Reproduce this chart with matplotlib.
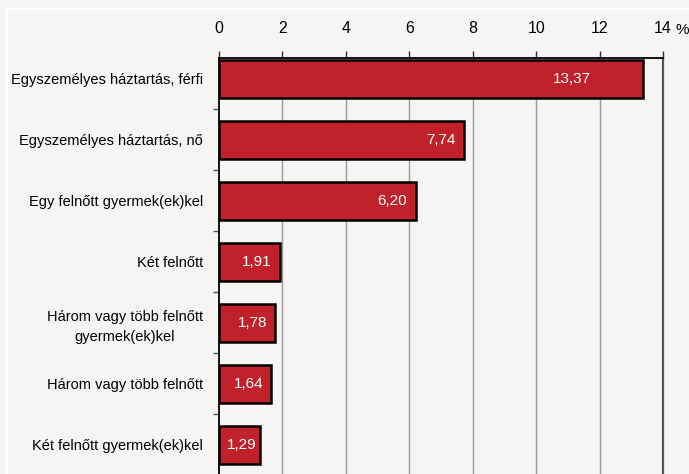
import matplotlib.pyplot as plt
from matplotlib.lines import Line2D

categories = [
    "Egyszemélyes háztartás, férfi",
    "Egyszemélyes háztartás, nő",
    "Egy felnőtt gyermek(ek)kel",
    "Két felnőtt",
    "Három vagy több felnőtt\ngyermek(ek)kel",
    "Három vagy több felnőtt",
    "Két felnőtt gyermek(ek)kel",
]
values = [13.37, 7.74, 6.20, 1.91, 1.78, 1.64, 1.29]
xticks = [0, 2, 4, 6, 8, 10, 12, 14]

# gap (px) between bar end and value label, as placed in the original
label_gap = [52, 9, 9, 8, 8, 8, 3]

plt.rcParams['font.family'] = ['Liberation Sans', 'DejaVu Sans']
bg = '#f6f5f3'

fig = plt.figure(figsize=(6.89, 4.74), dpi=100, facecolor=bg)
# white panel frame
fig.add_artist(Line2D([6.5/689, 6.5/689], [0, 1 - 8.5/474], color='white', lw=1.5, zorder=0))
fig.add_artist(Line2D([6.5/689, 1], [1 - 8.5/474, 1 - 8.5/474], color='white', lw=1.5, zorder=0))

ax = fig.add_axes([219/689, 0, (663 - 219)/689, (474 - 58)/474])
ax.set_facecolor(bg)

y = list(range(len(categories)))
ax.barh(y, values, height=0.62, color='#c1212a', edgecolor='black', linewidth=1.8, zorder=3)

px = 14 / 444  # data units per pixel
for yi, v, g in zip(y, values, label_gap):
    ax.text(v - g * px, yi, f"{v:.2f}".replace('.', ','), ha='right', va='center',
            color='white', fontsize=11, zorder=4)

ax.set_xlim(0, 14)
ax.set_ylim(6.48, -0.34)

ax.xaxis.tick_top()
ax.set_xticks(xticks)
ax.set_xticklabels([str(t) for t in xticks], fontsize=11.5)
ax.tick_params(axis='x', direction='out', length=5, width=1, color='#333333', pad=11)
for t in xticks[1:-1]:
    ax.axvline(t, color='#9a9a9a', lw=1, zorder=1)

ax.set_yticks([i + 0.5 for i in range(len(categories) - 1)])
ax.set_yticklabels([])
ax.tick_params(axis='y', which='major', direction='out', length=4, width=1, color='#555555')
ax.set_yticks(y, minor=True)
ax.set_yticklabels(categories, minor=True, fontsize=10.5)
for lab in ax.get_yticklabels(minor=True):
    lab.set_multialignment('center')
    lab.set_linespacing(1.5)
ax.tick_params(axis='y', which='minor', length=0, pad=11.5)

ax.spines['bottom'].set_visible(False)
ax.spines['top'].set_linewidth(1.3)
ax.spines['left'].set_linewidth(1.3)
ax.spines['right'].set_color('#555555')
ax.spines['right'].set_linewidth(1.6)

ax.text(14.4, 1.05, '%', transform=ax.get_xaxis_transform(), ha='left', va='bottom',
        fontsize=11, clip_on=False)

fig.savefig('out.png', dpi=100, facecolor=bg)
